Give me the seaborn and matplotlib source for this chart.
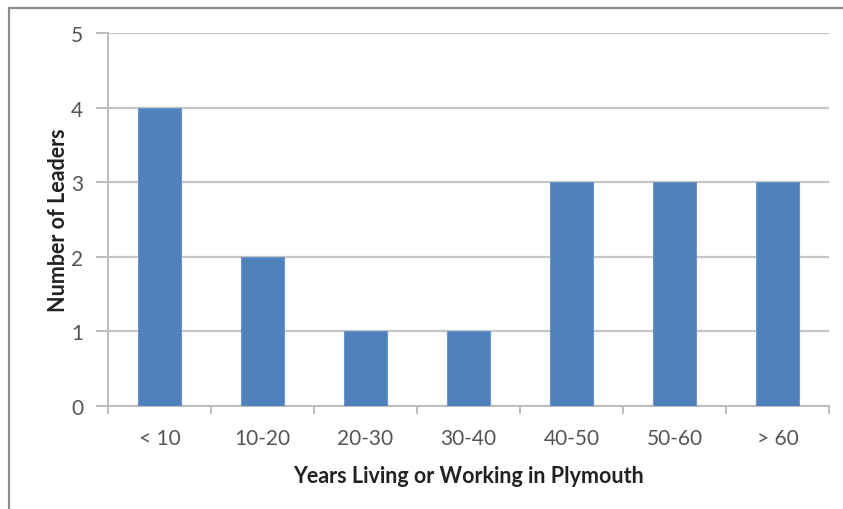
import matplotlib
matplotlib.use("Agg")
import matplotlib.pyplot as plt
import seaborn as sns
import pandas as pd
from matplotlib.lines import Line2D

categories = ["< 10", "10-20", "20-30", "30-40", "40-50", "50-60", "> 60"]
leaders = [4, 2, 1, 1, 3, 3, 3]
y_ticks = [0, 1, 2, 3, 4, 5]

df = pd.DataFrame({"years": categories, "leaders": leaders})

sns.set_theme(style="white")
plt.rcParams["font.family"] = ["Lato", "DejaVu Sans"]

W, H = 843, 510
fig = plt.figure(figsize=(W / 100, H / 100), dpi=100)
ax = fig.add_axes([108 / W, 1 - 407 / H, (829 - 108) / W, (407 - 34) / H])

sns.barplot(data=df, x="years", y="leaders", color="#4F81BD", width=0.41,
            saturation=1, edgecolor="#6C95C8", linewidth=0.8, ax=ax, zorder=3)

ax.set_ylim(0, 5)
ax.set_yticks(y_ticks)
ax.set_xlim(-0.5, len(categories) - 0.5)
ax.yaxis.grid(True, color="#C6C6C6", linewidth=1.6, zorder=0)
ax.xaxis.grid(False)
for side in ["top", "right"]:
    ax.spines[side].set_visible(False)
for side in ["left", "bottom"]:
    ax.spines[side].set_color("#BDBDBD")
    ax.spines[side].set_linewidth(1.4)

# ticks at category boundaries on x, outward ticks on y
ax.set_xticks(range(len(categories)))
ax.set_xticklabels(categories)
ax.set_xticks([i - 0.5 for i in range(len(categories) + 1)], minor=True)
ax.tick_params(axis="x", which="major", length=0, pad=16, labelsize=15, labelcolor="#555555")
ax.tick_params(axis="x", which="minor", bottom=True, length=6, width=1.4, color="#BDBDBD")
ax.tick_params(axis="y", left=True, length=9, width=1.4, color="#BDBDBD", pad=9,
               labelsize=15, labelcolor="#555555")

ax.set_xlabel("Years Living or Working in Plymouth", fontsize=15.5, fontweight="bold",
              color="#222222", labelpad=12)
ax.set_ylabel("Number of Leaders", fontsize=15.5, fontweight="bold",
              color="#222222", labelpad=1)

# chart frame (left and top edges)
frame_kw = dict(transform=fig.transFigure, color="#8C8C8C", linewidth=1.6)
fig.add_artist(Line2D([8.5 / W, 8.5 / W], [0, 1 - 8.5 / H], **frame_kw))
fig.add_artist(Line2D([8.5 / W, 1], [1 - 8.5 / H, 1 - 8.5 / H], **frame_kw))

fig.savefig("out.png", dpi=100)
